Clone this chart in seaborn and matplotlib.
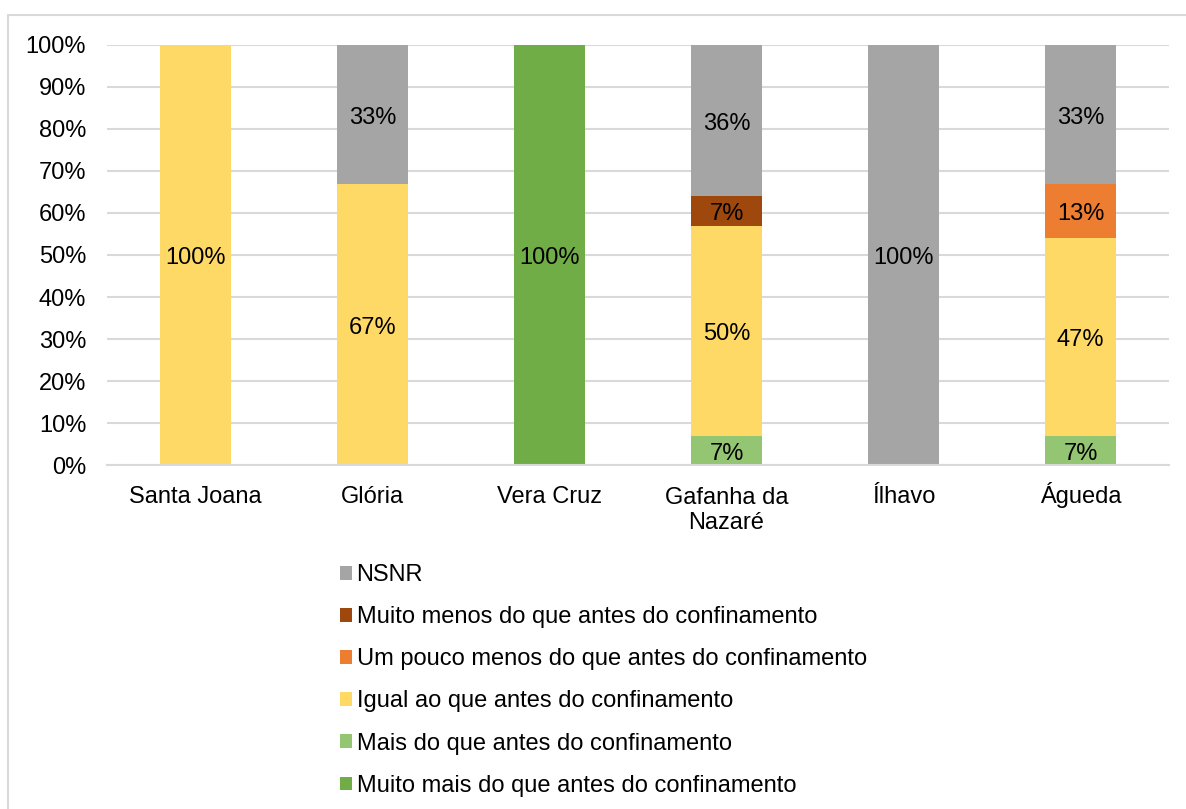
import matplotlib
matplotlib.use("Agg")
import matplotlib.pyplot as plt
from matplotlib.patches import Rectangle, Patch
import numpy as np
import pandas as pd
import seaborn as sns

# Parishes and response shares (%)
categories = ["Santa Joana", "Glória", "Vera Cruz", "Gafanha da\nNazaré", "Ílhavo", "Águeda"]

muito_mais = [0, 0, 100, 0, 0, 0]
mais = [0, 0, 0, 7, 0, 7]
igual = [100, 67, 0, 50, 0, 47]
pouco_menos = [0, 0, 0, 0, 0, 13]
muito_menos = [0, 0, 0, 7, 0, 0]
nsnr = [0, 33, 0, 36, 100, 33]

series_names = [
    "Muito mais do que antes do confinamento",
    "Mais do que antes do confinamento",
    "Igual ao que antes do confinamento",
    "Um pouco menos do que antes do confinamento",
    "Muito menos do que antes do confinamento",
    "NSNR",
]
series_values = [muito_mais, mais, igual, pouco_menos, muito_menos, nsnr]
series_colors = ["#70AD47", "#93C572", "#FFD966", "#ED7D31", "#9E480E", "#A5A5A5"]

FS = 17

sns.set_theme(style="white")
plt.rcParams["font.family"] = ["Liberation Sans", "DejaVu Sans"]

fig = plt.figure(figsize=(11.86, 8.09), dpi=100)
ax = fig.add_axes([0.0902, 0.4252, 0.8955, 0.5192])

bottom = np.zeros(len(categories))
for name, vals, col in zip(series_names, series_values, series_colors):
    df = pd.DataFrame({"cat": categories, "val": vals})
    sns.barplot(data=df, x="cat", y="val", order=categories, bottom=bottom,
                color=col, width=0.4, ax=ax, saturation=1, linewidth=0)
    for i, v in enumerate(vals):
        if v > 0:
            ax.annotate(f"{v}%", xy=(i, bottom[i] + v / 2), xytext=(0, -2.5),
                        textcoords="offset points", ha="center", va="center",
                        fontsize=FS, color="#000000")
    bottom = bottom + np.array(vals)

ax.set_xlim(-0.5, len(categories) - 0.5)
ax.set_ylim(0, 100)
ax.set_yticks(np.arange(0, 101, 10))
ax.set_yticklabels([f"{t}%" for t in range(0, 101, 10)])
ax.set_xlabel("")
ax.set_ylabel("")
ax.set_axisbelow(True)
ax.yaxis.grid(True, color="#D9D9D9", linewidth=1.5)
ax.xaxis.grid(False)
for s in ["top", "right", "left"]:
    ax.spines[s].set_visible(False)
ax.spines["bottom"].set_color("#D9D9D9")
ax.spines["bottom"].set_linewidth(1.5)
ax.tick_params(axis="y", length=0, pad=15, labelsize=FS, labelcolor="#000000")
ax.tick_params(axis="x", length=0, labelbottom=False)

# Category names, first-line baselines aligned under the axis
for i, cat in enumerate(categories):
    n_lines = cat.count("\n")
    ax.annotate(cat, xy=(i, 0), xycoords=("data", "axes fraction"),
                xytext=(0, -27.5 - n_lines * 18.7), textcoords="offset points",
                ha="center", va="baseline", fontsize=FS, color="#000000",
                linespacing=1.19, multialignment="center", annotation_clip=False)

# Legend below the plot, listed from top of stack to bottom
handles = [Patch(facecolor=c, edgecolor="none") for c in series_colors][::-1]
labels = series_names[::-1]
fig.legend(handles, labels, loc="upper left", bbox_to_anchor=(0.2867, 0.3025),
           frameon=False, fontsize=FS, handlelength=0.5, handleheight=0.5,
           handletextpad=0.2, labelspacing=0.85, borderaxespad=0, borderpad=0,
           labelcolor="#000000")

# Light frame around the chart area
fig.patches.append(Rectangle((8 / 1186, -0.05), 1.1, 1 - 15 / 809 + 0.05,
                             transform=fig.transFigure, fill=False,
                             edgecolor="#D9D9D9", linewidth=1.5))

fig.savefig("out.png", dpi=100)
